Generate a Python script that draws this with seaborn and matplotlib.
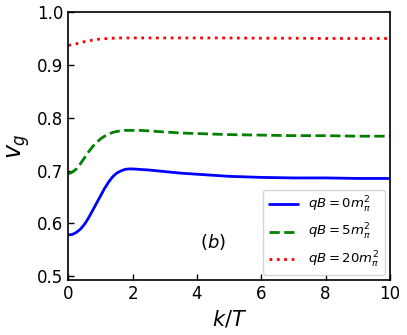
import matplotlib
matplotlib.use("Agg")
import matplotlib.pyplot as plt
import seaborn as sns
import pandas as pd

k = [0, 0.125, 0.25, 0.375, 0.5, 0.625, 0.75, 0.875, 1.0, 1.125, 1.25, 1.375, 1.5, 1.625, 1.75, 1.875,
     2.0, 2.25, 2.5, 3.0, 3.5, 4, 4.5, 5, 6, 7, 8, 9, 10]
v_qb0 = [0.578, 0.579, 0.583, 0.589, 0.598, 0.610, 0.624, 0.638, 0.652, 0.666, 0.678, 0.688, 0.695, 0.699,
         0.702, 0.703, 0.703, 0.702, 0.701, 0.698, 0.695, 0.693, 0.691, 0.689, 0.687, 0.686, 0.686, 0.685, 0.685]
v_qb5 = [0.694, 0.697, 0.703, 0.713, 0.724, 0.735, 0.745, 0.753, 0.760, 0.765, 0.769, 0.772, 0.774, 0.775,
         0.776, 0.776, 0.776, 0.776, 0.775, 0.773, 0.771, 0.770, 0.769, 0.768, 0.767, 0.766, 0.766, 0.765, 0.765]
v_qb20 = [0.937, 0.938, 0.940, 0.942, 0.944, 0.945, 0.947, 0.948, 0.949, 0.9495, 0.950, 0.9505, 0.951, 0.951,
          0.951, 0.951, 0.951, 0.951, 0.951, 0.951, 0.951, 0.951, 0.951, 0.951, 0.9505, 0.9505, 0.950, 0.950, 0.950]
labels = [r"$qB=0m_\pi^2$", r"$qB=5m_\pi^2$", r"$qB=20m_\pi^2$"]

sns.set_style("white")
plt.rcParams['font.family'] = ['DejaVu Sans']
plt.rcParams['axes.edgecolor'] = 'black'
plt.rcParams['xtick.color'] = 'black'
plt.rcParams['ytick.color'] = 'black'
plt.rcParams['text.color'] = 'black'
plt.rcParams['axes.labelcolor'] = 'black'

fig, ax = plt.subplots(figsize=(4.07, 3.35), dpi=100)
fig.subplots_adjust(left=0.168, right=0.958, top=0.964, bottom=0.163)

styles = [("blue", "-"), ("green", "--"), ("red", ":")]
for vals, lab, (c, ls) in zip([v_qb0, v_qb5, v_qb20], labels, styles):
    df = pd.DataFrame({"k": k, "v": vals})
    sns.lineplot(data=df, x="k", y="v", ax=ax, color=c, linestyle=ls, lw=2, label=lab)

ax.set_xlim(0, 10)
ax.set_ylim(0.492, 1.0)
ax.set_xticks([0, 2, 4, 6, 8, 10])
ax.set_yticks([0.5, 0.6, 0.7, 0.8, 0.9, 1.0])
ax.tick_params(direction="in", labelsize=12, length=4, width=1, bottom=True, left=True)
for s in ax.spines.values():
    s.set_linewidth(1.2)
    s.set_visible(True)
ax.set_xlabel(r"$k/T$", fontsize=15)
ax.set_ylabel(r"$v_g$", fontsize=17)
ax.text(4.5, 0.565, r"$(b)$", fontsize=13, ha="center", va="center")
ax.legend(loc="lower right", fontsize=9.5, frameon=True, labelspacing=0.55, handlelength=2.2,
          borderaxespad=0.4)
fig.savefig("out.png", dpi=100)
